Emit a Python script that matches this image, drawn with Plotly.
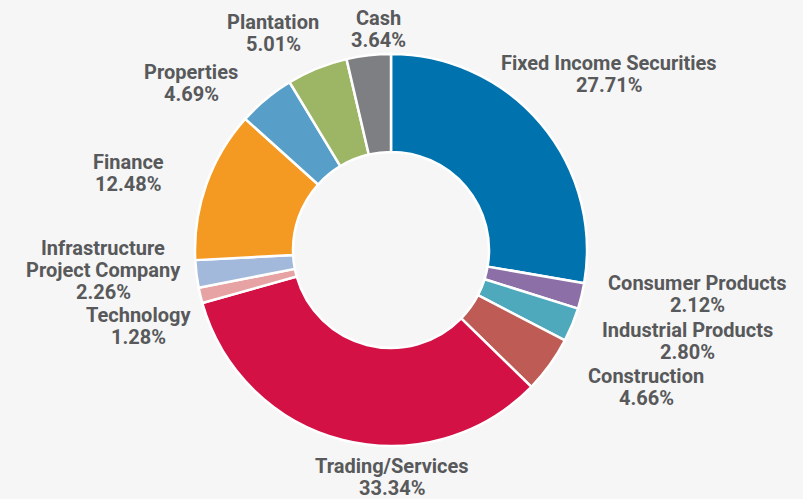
import plotly.graph_objects as go

sectors = ["Fixed Income Securities", "Consumer Products", "Industrial Products", "Construction",
           "Trading/Services", "Technology", "Infrastructure Project Company", "Finance",
           "Properties", "Plantation", "Cash"]
label_lines = [["Fixed Income Securities"], ["Consumer Products"], ["Industrial Products"],
               ["Construction"], ["Trading/Services"], ["Technology"],
               ["Infrastructure", "Project Company"], ["Finance"], ["Properties"],
               ["Plantation"], ["Cash"]]
weights = [27.71, 2.12, 2.80, 4.66, 33.34, 1.28, 2.26, 12.48, 4.69, 5.01, 3.64]
colors = ["#0072ae", "#8c6fa6", "#4ea9bd", "#bd5b54", "#d31145", "#e7a2a3", "#a3b9db",
          "#f49a22", "#579ec9", "#9cb665", "#7e7f83"]

# label block: centre x and y of first line (pixels), line step
label_pos = [(609, 63), (697, 283), (687, 330), (646, 376), (392, 466), (138, 315),
             (103, 248), (128, 162), (191, 72), (273, 22), (378, 18)]
STEP = 22

W, H = 803, 499
cx, cy, r = 391, 250, 196

fig = go.Figure(go.Pie(
    labels=sectors, values=weights, sort=False, direction="clockwise", rotation=0,
    hole=0.5, marker=dict(colors=colors, line=dict(color="white", width=2.5)),
    textinfo="none", hoverinfo="label+percent", showlegend=False,
    domain=dict(x=[(cx - r) / W, (cx + r) / W], y=[(H - cy - r) / H, (H - cy + r) / H]),
))

for lines, v, (px, py) in zip(label_lines, weights, label_pos):
    for i, t in enumerate(lines + [f"{v:.2f}%"]):
        fig.add_annotation(
            x=px / W, y=1 - (py + i * STEP) / H, xref="paper", yref="paper",
            text=f"<b>{t}</b>", showarrow=False,
            xanchor="center", yanchor="middle", align="center",
            font=dict(family="Roboto", size=20, color="#58595b"),
        )

fig.update_layout(
    width=W, height=H, margin=dict(l=0, r=0, t=0, b=0),
    paper_bgcolor="#f6f6f6", plot_bgcolor="#f6f6f6",
)
fig.write_html("out.html", config={"displayModeBar": False},
               post_script="document.body.style.margin='0';document.body.style.overflow='hidden';")
